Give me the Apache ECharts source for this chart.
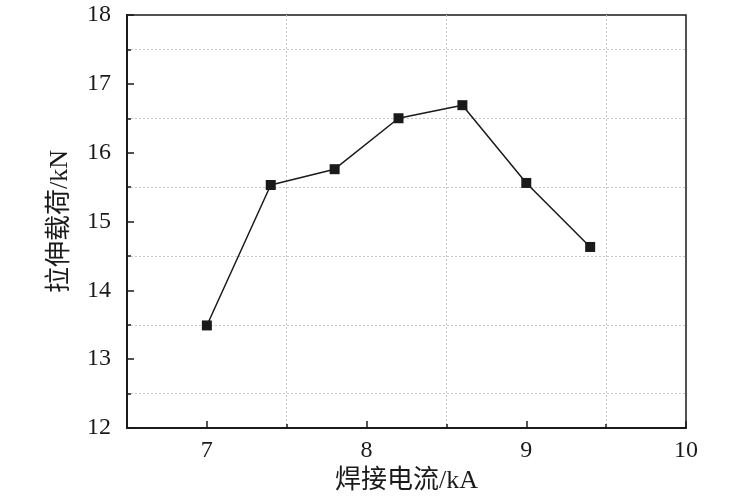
<!DOCTYPE html>
<html>
<head>
<meta charset="utf-8">
<script src="https://cdn.jsdelivr.net/npm/echarts@6/dist/echarts.min.js"></script>
<style>
  html, body { margin: 0; padding: 0; background: #fff; }
  #chart { width: 752px; height: 500px; }
</style>
</head>
<body>
<div id="chart"></div>
<script>
// 焊接电流 (kA) vs 拉伸载荷 (kN)
const current = [7.0, 7.4, 7.8, 8.2, 8.6, 9.0, 9.4];
const load = [13.49, 15.53, 15.76, 16.50, 16.69, 15.56, 14.63];
const xMajor = [7, 8, 9, 10];
const xMinor = [7.5, 8.5, 9.5];

const FONT = "'Liberation Serif', 'Times New Roman', 'Noto Sans CJK SC', serif";
const INK = "#1a1a1a";

const chart = echarts.init(document.getElementById("chart"));

chart.setOption({
  backgroundColor: "#fff",
  animation: false,
  grid: {
    left: 127, right: 66, top: 15, bottom: 72,
    show: true, borderColor: INK, borderWidth: 1.5, backgroundColor: "transparent",
  },
  xAxis: [
    {
      type: "value",
      position: "bottom",
      min: 6.5, max: 10,
      name: "焊接电流/kA",
      nameLocation: "middle",
      nameGap: 40,
      nameTextStyle: { fontFamily: FONT, fontSize: 26, color: INK },
      axisLine: { show: true, onZero: false, lineStyle: { color: INK, width: 2 } },
      axisTick: { show: true, inside: true, length: 4, customValues: xMinor, lineStyle: { color: INK, width: 1.5 } },
      axisLabel: { customValues: xMajor, fontFamily: FONT, fontSize: 24, color: INK, margin: 11 },
      splitLine: { show: true, lineStyle: { color: "#c8c8c8", type: [2, 2], width: 1 } },
    },
    {
      type: "value",
      position: "bottom",
      min: 6.5, max: 10,
      axisLine: { show: false, onZero: false },
      axisTick: { show: true, inside: true, length: 7, customValues: xMajor, lineStyle: { color: INK, width: 1.5 } },
      axisLabel: { show: false },
      splitLine: { show: false },
    },
  ],
  yAxis: {
    type: "value",
    min: 12, max: 18, interval: 1,
    name: "拉伸载荷/kN",
    nameLocation: "middle",
    nameGap: 54,
    nameTextStyle: { fontFamily: FONT, fontSize: 26, color: INK },
    axisLine: { show: true, onZero: false, lineStyle: { color: INK, width: 2 } },
    axisTick: { show: true, inside: true, length: 7, lineStyle: { color: INK, width: 1.5 } },
    minorTick: { show: true, splitNumber: 2, length: 4, lineStyle: { color: INK, width: 1.5 } },
    axisLabel: { fontFamily: FONT, fontSize: 24, color: INK, margin: 16 },
    splitLine: { show: false },
    minorSplitLine: { show: true, lineStyle: { color: "#c8c8c8", type: [2, 2], width: 1 } },
  },
  series: [{
    type: "line",
    data: current.map((c, i) => [c, load[i]]),
    symbol: "rect",
    symbolSize: 10,
    lineStyle: { color: INK, width: 1.5 },
    itemStyle: { color: INK },
  }],
});
</script>
</body>
</html>
